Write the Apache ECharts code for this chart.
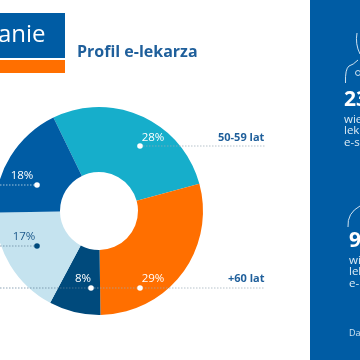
<!DOCTYPE html>
<html>
<head>
<meta charset="utf-8">
<style>html,body{margin:0;padding:0;background:#fff}#main{width:360px;height:360px}</style>
<script src="https://cdn.jsdelivr.net/npm/echarts@6/dist/echarts.min.js"></script>
</head>
<body>
<div id="main"></div>
<script>
var categories = ['50-59 lat', '+60 lat', 'brak', '30-39 lat', '40-49 lat'];
var values = [28, 29, 8, 17, 18];
var colors = ['#16aecb', '#ff6f00', '#004a7c', '#c5e3ef', '#005ca4'];
var labelColors = ['#fff', '#fff', '#fff', '#1d5a8c', '#fff'];

var chart = echarts.init(document.getElementById('main'));
var font = '"Open Sans", "Noto Sans", sans-serif';
var blue = '#1f5f9b';

function leader(x1, x2, y, color) {
    return {type: 'line', shape: {x1: x1, y1: y, x2: x2, y2: y},
        style: {stroke: color, lineWidth: 0.7, lineDash: [1.5, 1.5]}, z: 10};
}
function dot(x, y, color) {
    return {type: 'circle', shape: {cx: x, cy: y, r: 2.8}, style: {fill: color}, z: 11};
}
function txt(x, y, text, size, weight, color) {
    return {type: 'text', x: x, y: y, z: 12, style: {text: text, fontSize: size, fontWeight: weight,
        fill: color, fontFamily: font, textVerticalAlign: 'middle'}};
}
function curve(x1, y1, cx, cy, x2, y2) {
    return {type: 'bezierCurve', shape: {x1: x1, y1: y1, cpx1: cx, cpy1: cy, x2: x2, y2: y2},
        style: {stroke: '#e6f0f8', lineWidth: 0.9, fill: 'none'}, z: 12};
}

var option = {
    animation: false,
    backgroundColor: '#fff',
    series: [{
        type: 'pie',
        center: [99, 211],
        radius: [39, 104],
        startAngle: 116,
        clockwise: true,
        silent: true,
        data: categories.map(function (c, i) {
            return {name: c, value: values[i], itemStyle: {color: colors[i]},
                label: {color: labelColors[i]}};
        }),
        label: {position: 'inside', formatter: '{c}%', fontSize: 11.5, fontWeight: 500, fontFamily: font},
        labelLine: {show: false},
        labelLayout: function (p) {
            var pos = [[153, 138], [153, 279], [83, 279], [24, 237], [22, 176]][p.dataIndex];
            return {x: pos[0], y: pos[1], align: 'center', verticalAlign: 'middle'};
        }
    }],
    graphic: [
        // logo
        {type: 'rect', shape: {x: 0, y: 13, width: 65, height: 45}, style: {fill: '#005ca4'}},
        {type: 'rect', shape: {x: 0, y: 60, width: 65, height: 13}, style: {fill: '#ff6f00'}},
        txt(-2, 35, 'anie', 24, 400, '#fff'),
        txt(77, 52, 'Profil e-lekarza', 16, 700, blue),
        // leaders
        leader(140, 266, 146, '#9aa9b5'),
        leader(0, 37, 185, '#e4f1f7'),
        leader(0, 37, 246, '#5f7f99'),
        leader(0, 91, 288, '#5f7f99'),
        leader(91, 265, 288, '#9aa9b5'),
        dot(140, 146, '#fff'), dot(37, 185, '#fff'), dot(37, 246, '#004a7c'),
        dot(91, 288, '#fff'), dot(140, 288, '#fff'),
        txt(218, 138, '50-59 lat', 11, 700, blue),
        txt(228, 279, '+60 lat', 11, 700, blue),
        // right panel
        {type: 'rect', shape: {x: 310, y: 0, width: 50, height: 360}, style: {fill: '#005ca4'}},
        curve(345.5, 83, 345, 69, 349, 66),
        curve(349, 66, 353, 65, 358, 60),
        {type: 'circle', shape: {cx: 358, cy: 73, r: 2.5}, style: {stroke: '#e6f0f8', lineWidth: 0.9, fill: 'none'}, z: 12},
        curve(357, 33, 355, 44, 360, 54),
        curve(348, 227, 347, 213, 360, 206),
        txt(344, 100, '23', 21, 700, '#fff'),
        txt(344, 120, 'wie', 11.5, 400, '#dcebf5'),
        txt(344, 131, 'lek', 11.5, 400, '#dcebf5'),
        txt(344, 143, 'e-s', 11.5, 400, '#dcebf5'),
        txt(349, 241, '9', 21, 700, '#fff'),
        txt(349, 261, 'wi', 11.5, 400, '#dcebf5'),
        txt(349, 272, 'lel', 11.5, 400, '#dcebf5'),
        txt(349, 284, 'e-', 11.5, 400, '#dcebf5'),
        txt(349, 333, 'Da', 9, 400, '#cfe2f0')
    ]
};
chart.setOption(option);
</script>
</body>
</html>
